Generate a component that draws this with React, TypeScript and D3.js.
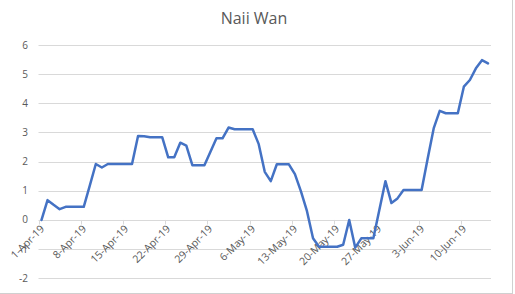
import React from "react";
import * as d3 from "d3";

const title = "Naii Wan";
const startDate = "2019-04-01";
const values: number[] = [
  0.0, 0.68, 0.52, 0.37, 0.45, 0.45, 0.45, 0.45, 1.18, 1.92,
  1.8, 1.92, 1.92, 1.92, 1.92, 1.92, 2.88, 2.87, 2.84, 2.84,
  2.84, 2.15, 2.15, 2.65, 2.55, 1.88, 1.88, 1.88, 2.34, 2.8,
  2.8, 3.17, 3.11, 3.11, 3.11, 3.11, 2.6, 1.65, 1.33, 1.91,
  1.91, 1.91, 1.57, 0.98, 0.3, -0.63, -0.92, -0.92, -0.92, -0.92,
  -0.85, 0.0, -0.95, -0.63, -0.63, -0.63, 0.35, 1.33, 0.58, 0.74,
  1.03, 1.03, 1.03, 1.03, 2.1, 3.14, 3.74, 3.66, 3.66, 3.66,
  4.57, 4.8, 5.2, 5.48, 5.37,
];
const xTickLabels = [
  "1-Apr-19", "8-Apr-19", "15-Apr-19", "22-Apr-19", "29-Apr-19", "6-May-19",
  "13-May-19", "20-May-19", "27-May-19", "3-Jun-19", "10-Jun-19",
];
const yTicks = [-2, -1, 0, 1, 2, 3, 4, 5, 6];
const axisEnd = "2019-06-15";

const W = 515;
const H = 294;
const FONT = "'Open Sans', 'Liberation Sans', sans-serif";

export default function App() {
  const parseIso = d3.timeParse("%Y-%m-%d");
  const parseLabel = d3.timeParse("%d-%b-%y");
  const start = parseIso(startDate) as Date;
  const end = parseIso(axisEnd) as Date;

  const x = d3.scaleTime().domain([start, end]).range([38.5, 491]);
  const y = d3.scaleLinear().domain([-2, 6]).range([278.3, 45]);

  const data = values.map((v, i) => ({
    date: d3.timeHour.offset(d3.timeDay.offset(start, i), 12),
    value: v,
  }));

  const line = d3
    .line<{ date: Date; value: number }>()
    .x((d) => x(d.date))
    .y((d) => y(d.value));

  const ticks = xTickLabels.map((l) => ({ label: l, date: parseLabel(l) as Date }));

  return (
    <svg
      width={W}
      height={H}
      style={{ position: "absolute", left: 0, top: 0, background: "#fff" }}
    >
      <rect x={0} y={0} width={W} height={H} fill="#fff" />
      <line x1={512.5} x2={512.5} y1={0} y2={H} stroke="#d0d0d0" />
      <line x1={0} x2={512.5} y1={293.5} y2={293.5} stroke="#d0d0d0" />
      <text
        x={254}
        y={24}
        textAnchor="middle"
        fontFamily={FONT}
        fontSize={16}
        fill="#595959"
      >
        {title}
      </text>
      {yTicks.map((t) => (
        <g key={t}>
          <line
            x1={38.5}
            x2={491}
            y1={Math.round(y(t)) + 0.5}
            y2={Math.round(y(t)) + 0.5}
            stroke="#d9d9d9"
            strokeWidth={1}
          />
          <text
            x={28}
            y={y(t)}
            dy="0.35em"
            textAnchor="end"
            fontFamily={FONT}
            fontSize={10}
            fill="#595959"
          >
            {t}
          </text>
        </g>
      ))}
      {ticks.map((t) => {
        const tx = Math.round(x(t.date)) + 0.5;
        return (
          <g key={t.label}>
            <line x1={tx} x2={tx} y1={y(0)} y2={y(0) + 4.5} stroke="#d9d9d9" />
            <text
              transform={`translate(${tx + 3},${y(0) + 7}) rotate(-45)`}
              textAnchor="end"
              dy="0.35em"
              fontFamily={FONT}
              fontSize={10.5}
              fill="#595959"
            >
              {t.label}
            </text>
          </g>
        );
      })}
      <path
        d={line(data) || ""}
        fill="none"
        stroke="#4472C4"
        strokeWidth={2.5}
        strokeLinejoin="round"
        strokeLinecap="round"
      />
    </svg>
  );
}
